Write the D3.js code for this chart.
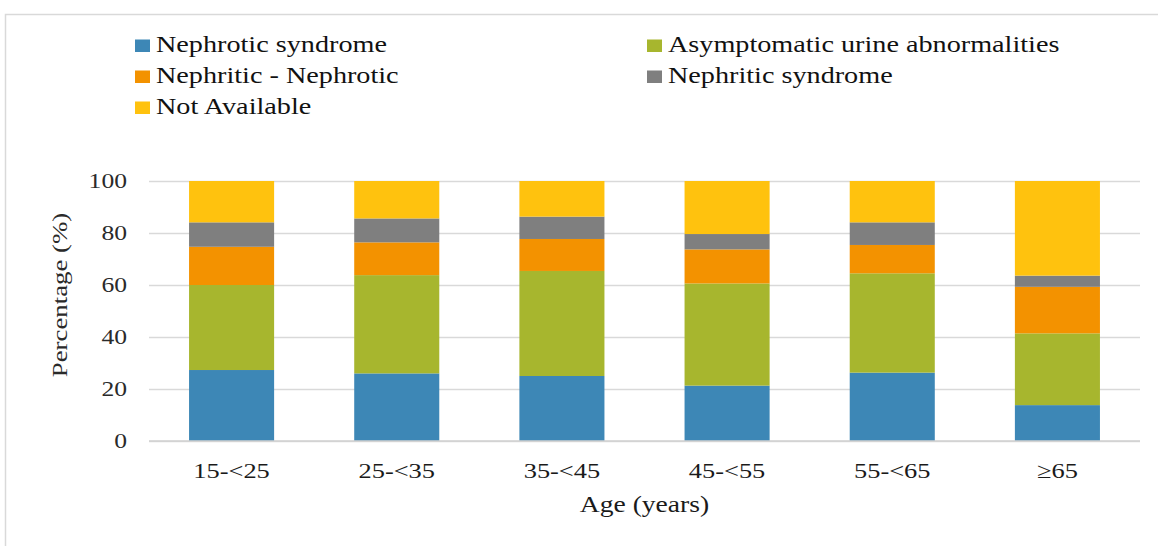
<!DOCTYPE html>
<html>
<head>
<meta charset="utf-8">
<script src="https://cdn.jsdelivr.net/npm/d3@7/dist/d3.min.js"></script>
<style>
  html, body { margin: 0; padding: 0; background: #ffffff; }
  svg { display: block; }
  text { font-family: "Liberation Serif", "Times New Roman", serif; }
</style>
</head>
<body>
<svg id="chart" width="1158" height="546"></svg>
<script>
// Age groups on the x axis
const categories = ["15-<25", "25-<35", "35-<45", "45-<55", "55-<65", "≥65"];

// Series names, stacked bottom to top
const seriesNames = [
  "Nephrotic syndrome",
  "Asymptomatic urine abnormalities",
  "Nephritic - Nephrotic",
  "Nephritic syndrome",
  "Not Available"
];

// Percentage of each presentation per age group
const nephroticSyndrome     = [27.3, 26.0, 25.0, 21.3, 26.3, 13.8];
const asymptomaticUrine     = [32.7, 37.8, 40.4, 39.3, 38.2, 27.6];
const nephriticNephrotic    = [14.7, 12.6, 12.3, 13.1, 10.9, 17.9];
const nephriticSyndrome     = [ 9.4,  9.2,  8.6,  5.9,  8.7,  4.3];
const notAvailable          = [15.9, 14.4, 13.7, 20.4, 15.9, 36.4];

// Y axis ticks
const yTicks = [0, 20, 40, 60, 80, 100];

const seriesColors = ["#3d87b6", "#a7b62e", "#f39200", "#7f7f7f", "#ffc20e"];
const seriesValues = [nephroticSyndrome, asymptomaticUrine, nephriticNephrotic, nephriticSyndrome, notAvailable];

// Rows for d3.stack
const rows = categories.map((c, i) => {
  const r = { category: c };
  seriesNames.forEach((s, j) => { r[s] = seriesValues[j][i]; });
  return r;
});

const svg = d3.select("#chart");

// Outer frame
svg.append("rect")
  .attr("x", 5.5).attr("y", 14.5)
  .attr("width", 1170).attr("height", 560)
  .attr("fill", "#ffffff")
  .attr("stroke", "#d9d9d9")
  .attr("stroke-width", 1.5);

const plot = { left: 149, right: 1140, top: 181, bottom: 441 };

const x = d3.scaleBand()
  .domain(categories)
  .range([plot.left, plot.right])
  .paddingInner(0.485)
  .paddingOuter(0.2425);

const y = d3.scaleLinear()
  .domain([0, 100])
  .range([plot.bottom, plot.top]);

// Widen glyphs horizontally (along the baseline) by factor k,
// keeping the anchor point where it was
function widen(sel, k, pre) {
  sel.each(function () {
    const t = d3.select(this);
    const x0 = +(t.attr("x") || 0);
    t.attr("x", x0 / k).attr("transform", (pre || "") + ` scale(${k},1)`);
  });
}

// Horizontal gridlines
const grid = svg.append("g")
  .attr("transform", `translate(${plot.left},0)`)
  .call(d3.axisLeft(y).tickValues(yTicks).tickSize(-(plot.right - plot.left)).tickFormat(""));
grid.select(".domain").remove();
grid.selectAll(".tick line").attr("stroke", "#d9d9d9").attr("stroke-width", 1.5);

// Stacked bars
const stack = d3.stack().keys(seriesNames);
const layers = stack(rows);

svg.append("g")
  .selectAll("g")
  .data(layers)
  .join("g")
  .attr("fill", (d, i) => seriesColors[i])
  .selectAll("rect")
  .data(d => d)
  .join("rect")
  .attr("x", d => x(d.data.category))
  .attr("width", x.bandwidth())
  .attr("y", d => y(d[1]))
  .attr("height", d => y(d[0]) - y(d[1]));

// Baseline axis line
svg.append("line")
  .attr("x1", plot.left).attr("x2", plot.right)
  .attr("y1", y(0)).attr("y2", y(0))
  .attr("stroke", "#d0d0d0").attr("stroke-width", 1.5);

// Y axis labels
const yAxis = svg.append("g")
  .attr("transform", `translate(${plot.left},0)`)
  .call(d3.axisLeft(y).tickValues(yTicks).tickSize(0).tickPadding(22));
yAxis.select(".domain").remove();
yAxis.selectAll(".tick text")
  .attr("font-family", "'Liberation Serif', serif")
  .attr("font-size", 21)
  .attr("fill", "#2a2a2a")
  .attr("dy", "0.33em")
  .call(widen, 1.22);

// X axis labels
const xAxis = svg.append("g")
  .attr("transform", `translate(0,${plot.bottom})`)
  .call(d3.axisBottom(x).tickSize(0).tickPadding(0));
xAxis.select(".domain").remove();
xAxis.selectAll(".tick text")
  .attr("font-family", "'Liberation Serif', serif")
  .attr("font-size", 22)
  .attr("fill", "#1a1a1a")
  .attr("y", 37)
  .attr("dy", 0)
  .call(widen, 1.2);

// Axis titles
svg.append("text")
  .attr("x", (plot.left + plot.right) / 2)
  .attr("y", 512)
  .attr("text-anchor", "middle")
  .attr("font-size", 23)
  .attr("fill", "#1a1a1a")
  .text("Age (years)")
  .call(widen, 1.2);

svg.append("text")
  .attr("x", 0).attr("y", 0)
  .attr("text-anchor", "middle")
  .attr("font-size", 22)
  .attr("fill", "#2a2a2a")
  .text("Percentage (%)")
  .call(widen, 1.22, `translate(67,${(plot.top + plot.bottom) / 2 - 16}) rotate(-90)`);

// Legend: two columns, filled row by row
const legendCols = [135, 647];
const legendRows = [52, 83, 114];
const legend = svg.append("g");
seriesNames.forEach((name, i) => {
  const cx = legendCols[i % 2];
  const by = legendRows[Math.floor(i / 2)];
  legend.append("rect")
    .attr("x", cx).attr("y", by - 12.5)
    .attr("width", 15).attr("height", 12.5)
    .attr("fill", seriesColors[i]);
  legend.append("text")
    .attr("x", cx + 21).attr("y", by)
    .attr("font-size", 24)
    .attr("fill", "#111111")
    .text(name)
    .call(widen, 1.175);
});
</script>
</body>
</html>
